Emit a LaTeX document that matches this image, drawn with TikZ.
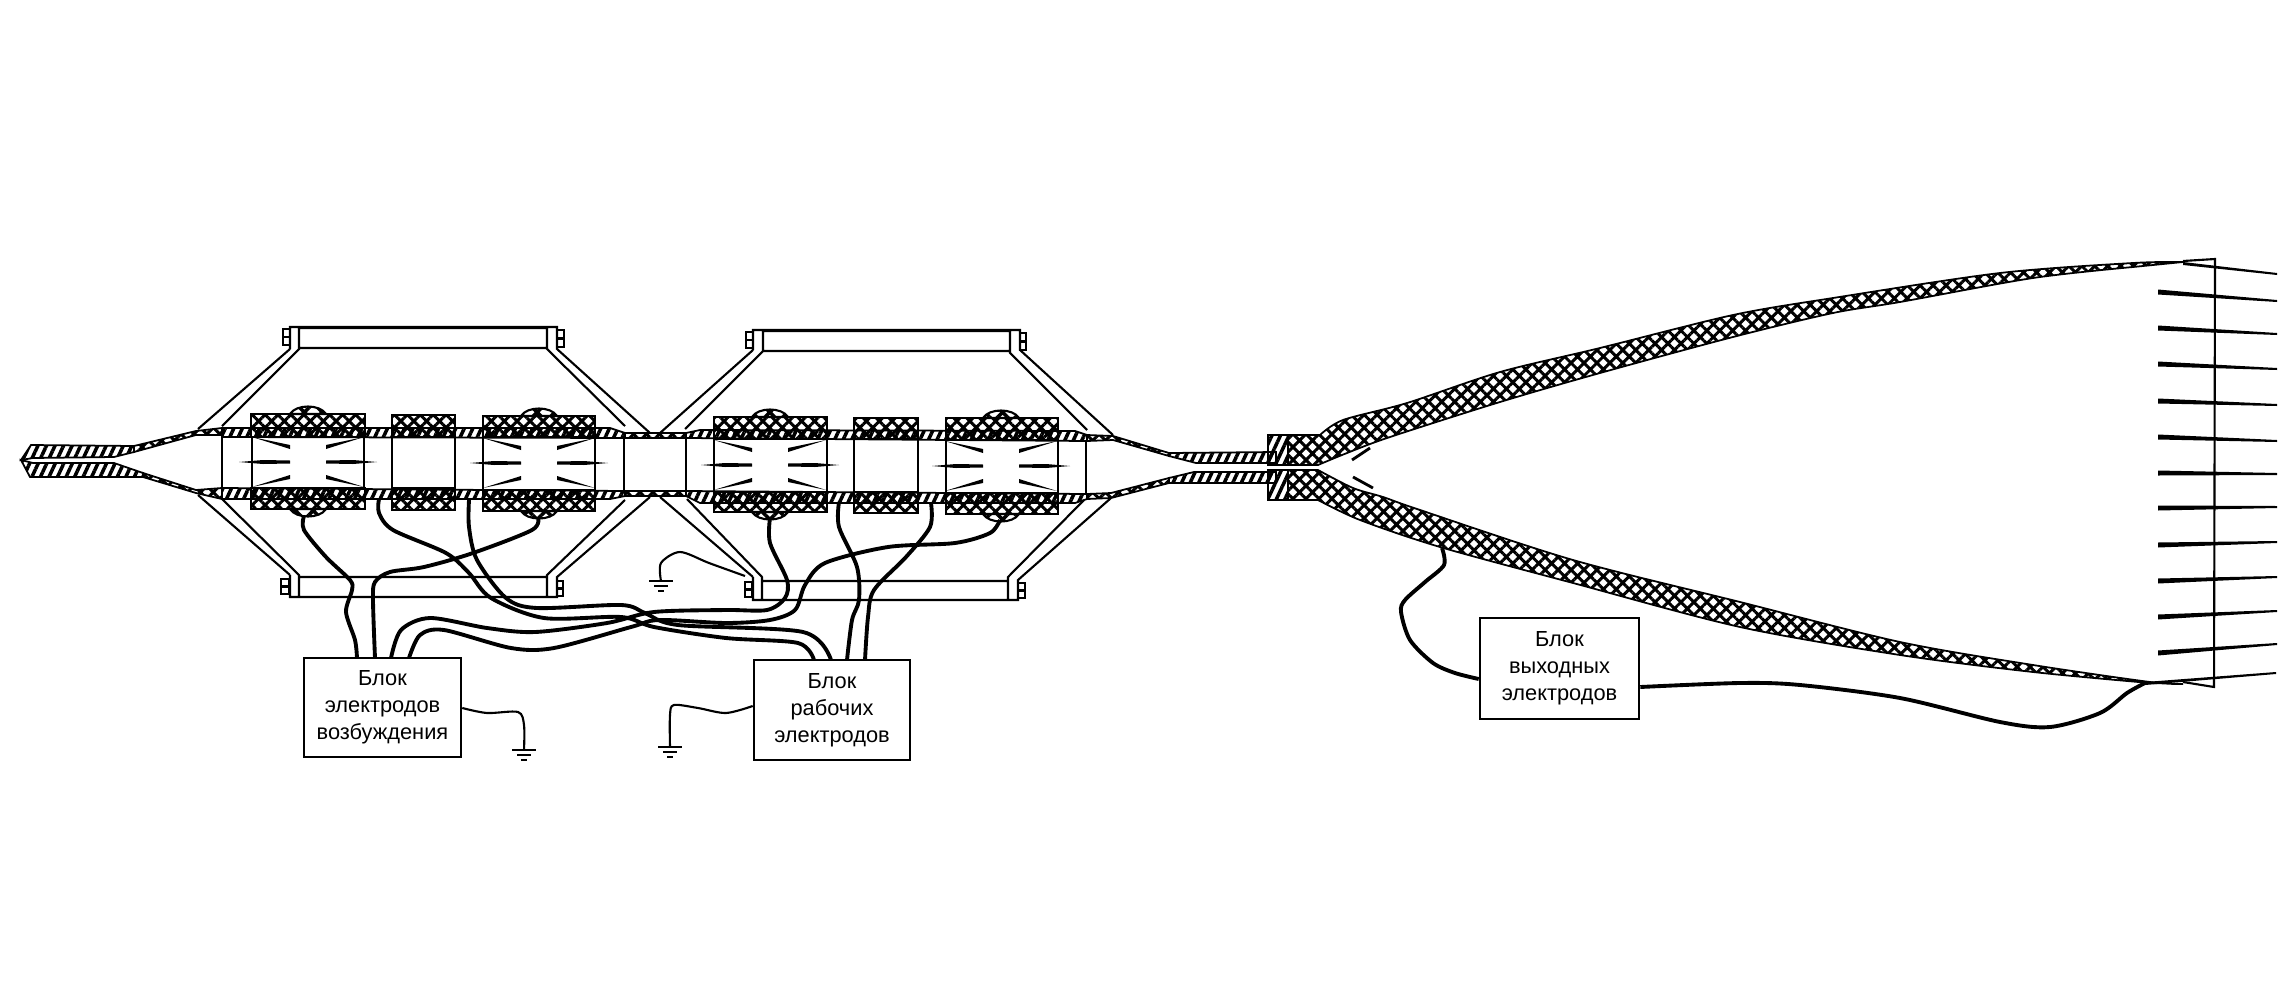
\documentclass[tikz,border=0pt]{standalone}
\usepackage{fontspec}
\setmainfont{Liberation Sans}
\usetikzlibrary{patterns.meta}
\tikzset{
  thinline/.style={line width=0.6pt},
  meshfill/.style={draw,line width=0.5pt,pattern={Hatch[angle=45,distance=2.6pt,line width=0.85pt]}},
  bumpfill/.style={draw,line width=0.6pt,pattern={Hatch[angle=45,distance=3.6pt,line width=1pt]}},
  hatchfill/.style={draw,line width=0.5pt,pattern={Lines[angle=65,distance=2.2pt,line width=1pt]}},
  wire/.style={line width=1.1pt},
  thinwire/.style={line width=0.6pt},
  blockbox/.style={draw,line width=0.7pt,fill=white,align=center,inner sep=0pt,font=\fontsize{6.2}{7.7}\selectfont},
  earth/.pic={\draw[line width=0.6pt] (-12,0) -- (12,0) (-7,5) -- (7,5) (-3,10) -- (3,10);}
}
\begin{document}
\begin{tikzpicture}[x=0.01cm,y=-0.01cm]
\useasboundingbox (0,0) rectangle (2288,1003);
% frames
\draw[thinline] (290,349) -- (290,327) -- (557,327) -- (557,349) -- (650,433) (299,327) -- (299,349) -- (222,426) (547,327) -- (547,349) -- (625,426) (299,328) rectangle (547,348) (290,349) -- (198,429);
\draw[thinline] (290,575) -- (290,597) -- (557,597) -- (557,577) -- (650,497) (299,597) -- (299,575) -- (222,499) (547,597) -- (547,575) -- (625,500) (299,577) rectangle (547,597) (290,575) -- (198,495);
\draw[thinline] (753,350) -- (753,330) -- (1020,330) -- (1020,350) -- (1113,435) (763,330) -- (763,351) -- (685,429) (1010,330) -- (1010,353) -- (1087,430) (763,331) rectangle (1010,351) (753,350) -- (660,433);
\draw[thinline] (753,577) -- (753,600) -- (1018,600) -- (1018,580) -- (1111,498) (762,600) -- (762,577) -- (687,499) (1008,600) -- (1008,577) -- (1084,500) (762,581) rectangle (1008,600) (753,577) -- (660,497);
% bolts
\foreach \xa/\xb/\ya/\yb in {283/290/329/345,557/564/330/347,281/289/579/594,557/563/581/596,746/753/332/348,1020/1026/333/350,745/752/582/597,1018/1025/583/598}{
  \draw[thinline] (\xa,\ya) rectangle (\xb,\yb);
  \draw[thinline] (\xa,{(\ya+\yb)/2}) -- (\xb,{(\ya+\yb)/2});
}
% inlet
\draw[hatchfill] (21,460) -- (31,445) -- (134,446) -- (134,452) -- (114,457) -- (33,458) -- cycle;
\draw[hatchfill] (21,460) -- (33,463) -- (114,463) -- (143,473) -- (143,477) -- (30,477) -- cycle;
\draw[meshfill] (134,446) -- (196,431) -- (222,428) -- (222,435) -- (196,435) -- (134,452) -- cycle;
\draw[meshfill] (143,473) -- (196,490) -- (222,488) -- (222,499) -- (196,493) -- (143,477) -- cycle;
% walls
\draw[hatchfill] (222,428) -- (610,428) -- (625,433) -- (625,438) -- (222,437) -- cycle;
\draw[hatchfill] (222,488) -- (625,491) -- (625,496) -- (610,499) -- (222,499) -- cycle;
\draw[meshfill] (625,433) -- (686,433) -- (686,438) -- (625,438) -- cycle;
\draw[meshfill] (625,491) -- (686,491) -- (686,496) -- (625,496) -- cycle;
\draw[hatchfill] (686,433) -- (700,430) -- (1075,431) -- (1087,435) -- (1087,441) -- (686,438) -- cycle;
\draw[hatchfill] (686,491) -- (1087,494) -- (1087,499) -- (1075,503) -- (700,503) -- (686,496) -- cycle;
% outlet
\draw[meshfill] (1087,435) -- (1113,436) -- (1169,453) -- (1169,456) -- (1113,440) -- (1087,441) -- cycle;
\draw[meshfill] (1087,494) -- (1111,493) -- (1169,478) -- (1169,483) -- (1111,498) -- (1087,499) -- cycle;
\draw[hatchfill] (1169,453) -- (1276,452) -- (1276,463) -- (1196,463) -- (1169,456) -- cycle;
\draw[hatchfill] (1169,478) -- (1194,472) -- (1276,472) -- (1276,483) -- (1169,483) -- cycle;
% chamber walls
\foreach \x/\ya/\yb in {222/437/488,252/437/488,364/437/488,392/437/488,455/437/489,483/437/490,595/438/491,624/438/491,686/438/492,714/439/492,827/439/492,854/439/492,918/440/493,946/440/493,1058/441/494,1086/441/494}
  \draw[thinline] (\x,\ya) -- (\x,\yb);
% blocks
\foreach \xa/\xb/\ya/\yb/\yc/\yd in {251/365/414/437/488/509,392/455/415/437/488/510,483/595/416/437/490/511,714/827/417/439/492/512,854/918/418/439/492/513,946/1058/418/440/493/514}{
  \draw[meshfill] (\xa,\ya) rectangle (\xb,\yb);
  \draw[meshfill] (\xa,\yc) rectangle (\xb,\yd);
}
% bumps and electrodes
\foreach \c/\ya/\yd/\m in {308/414/509/462,539/416/511/463,770/417/512/465,1001/418/514/466}{
  \draw[bumpfill] (\c-18,\ya) .. controls (\c-12,\ya-10) and (\c+12,\ya-10) .. (\c+18,\ya) -- cycle;
  \draw[bumpfill] (\c-18,\yd) .. controls (\c-12,\yd+10) and (\c+12,\yd+10) .. (\c+18,\yd) -- cycle;
  \foreach \s in {-1,1}{
    \fill (\c+\s*56,\m-25) -- (\c+\s*18,\m-17) -- (\c+\s*18,\m-13) -- cycle;
    \fill (\c+\s*69,\m) -- (\c+\s*45,\m-2) -- (\c+\s*18,\m-1.5) -- (\c+\s*18,\m+1.5) -- (\c+\s*45,\m+2) -- cycle;
    \fill (\c+\s*56,\m+25) -- (\c+\s*18,\m+17) -- (\c+\s*18,\m+13) -- cycle;
  }
}
% output flanges
\draw[hatchfill] (1268,435) rectangle (1288,465);
\draw[hatchfill] (1268,470) rectangle (1288,500);
\draw[meshfill] (1288,435) -- plot[smooth] coordinates {(1320,435) (1343,420) (1407,403) (1500,372) (1600,348) (1733,315) (1833,298) (2000,273) (2133,263) (2183,262)} -- plot[smooth] coordinates {(2133,267) (2033,278) (1900,302) (1833,313) (1733,337) (1600,373) (1500,402) (1390,437) (1347,453) (1318,465)} -- (1288,465) -- cycle;
\draw[meshfill] (1288,470) -- plot[smooth] coordinates {(1318,470) (1353,488) (1383,497) (1420,510) (1573,560) (1740,602) (1900,642) (2033,665) (2150,682) (2183,684)} -- plot[smooth] coordinates {(2150,683) (2033,672) (1900,655) (1740,627) (1573,583) (1440,547) (1360,520) (1318,500)} -- (1288,500) -- cycle;
\draw[line width=0.8pt] (1352,460) -- (1370,448);
\draw[line width=0.8pt] (1353,477) -- (1373,488);
% output plate
\draw[thinline] (2183,261) -- (2215,259) -- (2214,687) -- (2183,682);
\fill (2183,262) -- (2277,273) -- (2277,275) -- (2183,265) -- cycle;
\fill (2145,682) -- (2276,672) -- (2276,674) -- (2145,685) -- cycle;
\foreach \ya/\yb in {292/301,328/334,364/369,401/405,437/441,473/474,508/507,545/542,581/577,617/611,653/644}
  \fill (2158,\ya-2.5) -- (2277,\yb-1) -- (2277,\yb+1) -- (2158,\ya+2.5) -- cycle;
% units
\node[blockbox,minimum width=1.57cm,minimum height=0.99cm] (exc) at (382.5,707.5) {Блок\\электродов\\возбуждения};
\node[blockbox,minimum width=1.56cm,minimum height=1cm] (wrk) at (832,710) {Блок\\рабочих\\электродов};
\node[blockbox,minimum width=1.59cm,minimum height=1.01cm] (vyh) at (1559.5,668.5) {Блок\\выходных\\электродов};
% wire ends
\coordinate (bump1) at (304,516);
\coordinate (bump2) at (538,517);
\coordinate (bump3) at (770,518);
\coordinate (bump4) at (1000,520);
\coordinate (tap1) at (379,499);
\coordinate (tap2) at (469,500);
\coordinate (tap3) at (839,502);
\coordinate (tap4) at (931,503);
\coordinate (exc1) at (357,658);
\coordinate (exc2) at (375,658);
\coordinate (exc3) at (391,658);
\coordinate (exc4) at (409,658);
\coordinate (wrk1) at (814,660);
\coordinate (wrk2) at (831,660);
\coordinate (wrk3) at (847,660);
\coordinate (wrk4) at (865,660);
\coordinate (frm) at (745,576);
\coordinate (gnd1) at (661,581);
\coordinate (gnd2) at (524,750);
\coordinate (gnd3) at (670,747);
\coordinate (hornlow) at (1442,548);
\coordinate (hornend) at (2145,683);
% wires
\draw[wire] plot[smooth] coordinates {(bump1) (304,530) (326,557) (350,580) (352,590) (346,612) (355,640) (exc1)};
\draw[wire] plot[smooth] coordinates {(bump2) (532,530) (473,553) (424,567) (390,572) (375,582) (373,600) (exc2)};
\draw[wire] plot[smooth] coordinates {(bump3) (770,543) (787,580) (785,598) (767,610) (726,610) (654,612) (607,623) (535,632) (487,628) (430,618) (401,630) (exc3)};
\draw[wire] plot[smooth] coordinates {(bump4) (990,533) (955,543) (888,547) (825,563) (805,585) (795,610) (770,620) (726,623) (659,620) (631,627) (554,648) (511,648) (444,630) (420,635) (exc4)};
\draw[wire] plot[smooth] coordinates {(tap1) (379,513) (393,530) (446,553) (469,573) (491,598) (544,618) (621,617) (654,627) (726,638) (798,643) (wrk1)};
\draw[wire] plot[smooth] coordinates {(tap2) (469,527) (477,560) (506,598) (537,608) (621,605) (645,613) (678,625) (803,632) (wrk2)};
\draw[wire] plot[smooth] coordinates {(tap3) (839,527) (857,567) (859,600) (852,620) (wrk3)};
\draw[wire] plot[smooth] coordinates {(tap4) (930,527) (906,557) (874,590) (868,617) (wrk4)};
\draw[wire] plot[smooth] coordinates {(hornlow) (1444,565) (1425,582) (1405,600) (1401,612) (1410,640) (1433,663) (1455,673) (vyh.west |- 0,679)};
\draw[wire] plot[smooth] coordinates {(vyh.east |- 0,687) (1740,683) (1800,685) (1900,698) (2000,722) (2050,727) (2100,713) (2127,693) (hornend)};
\draw[thinwire] plot[smooth] coordinates {(frm) (709,563) (680,552) (661,563) (gnd1)};
\draw[thinwire] plot[smooth] coordinates {(exc.east |- 0,708) (487,713) (518,712) (524,725) (gnd2)};
\draw[thinwire] plot[smooth] coordinates {(wrk.west |- 0,706) (726,713) (698,708) (674,705) (670,715) (gnd3)};
% grounds
\pic at (gnd1) {earth};
\pic at (gnd2) {earth};
\pic at (gnd3) {earth};
\end{tikzpicture}
\end{document}
